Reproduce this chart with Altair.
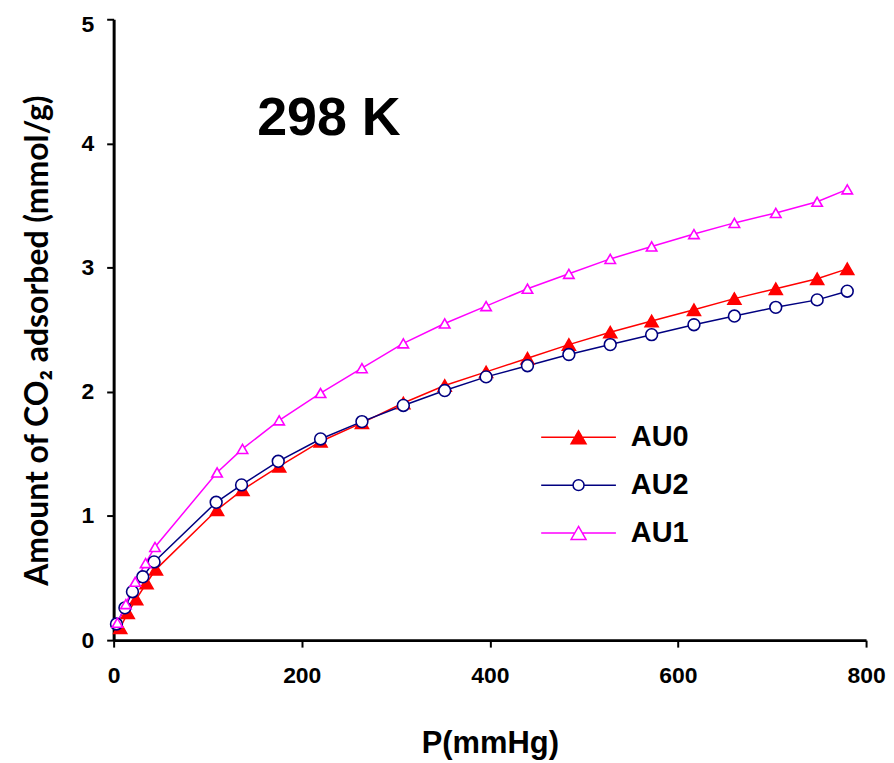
import altair as alt
import pandas as pd

series_names = ["AU0", "AU2", "AU1"]
line_colors = ["#FF0000", "#000080", "#FF00FF"]
fill_colors = ["#FF0000", "#FFFFFF", "#FFFFFF"]
marker_shapes = ["triangle-up", "circle", "triangle-up"]
marker_sizes = [170, 110, 170]

p_au0 = [7, 15, 24, 35, 45, 110, 137, 176, 220, 264, 308, 352, 396, 440, 484, 528, 572, 617, 660, 704, 748, 780]
q_au0 = [0.10, 0.22, 0.33, 0.46, 0.57, 1.05, 1.21, 1.40, 1.60, 1.75, 1.91, 2.05, 2.16, 2.27, 2.38, 2.48,
         2.57, 2.66, 2.75, 2.83, 2.91, 2.99]

p_au2 = [3, 12, 20, 31, 43, 109, 136, 175, 220, 264, 308, 352, 396, 440, 484, 528, 572, 617, 660, 704, 748, 780]
q_au2 = [0.13, 0.26, 0.39, 0.51, 0.63, 1.11, 1.25, 1.44, 1.62, 1.76, 1.89, 2.01, 2.12, 2.21, 2.30, 2.38,
         2.46, 2.54, 2.61, 2.68, 2.74, 2.81]

p_au1 = [4, 13, 23, 34, 44, 110, 137, 176, 220, 264, 308, 352, 396, 440, 484, 528, 572, 617, 660, 704, 748, 780]
q_au1 = [0.14, 0.29, 0.47, 0.62, 0.75, 1.35, 1.54, 1.77, 1.99, 2.19, 2.39, 2.55, 2.69, 2.83, 2.95, 3.07,
         3.17, 3.27, 3.36, 3.44, 3.53, 3.63]

x_ticks = [0, 200, 400, 600, 800]
y_ticks = [0, 1, 2, 3, 4, 5]

# legend symbols: line + marker (custom unit paths)
legend_paths = [
    "M-5,0H5M0,-0.87L1,0.87H-1Z",
    "M-5,0H-0.73M0.73,0H5M-0.73,0A0.73,0.73,0,1,0,0.73,0A0.73,0.73,0,1,0,-0.73,0Z",
    "M-5,0H-0.5M0.5,0H5M0,-0.87L1,0.87H-1Z",
]

rows = []
for name, ps, qs in zip(series_names, [p_au0, p_au2, p_au1], [q_au0, q_au2, q_au1]):
    for i, (p, q) in enumerate(zip(ps, qs)):
        rows.append({"series": name, "P": p, "q": q, "idx": i})
df = pd.DataFrame(rows)

FONT = "Liberation Sans"

x_enc = alt.X("P:Q", scale=alt.Scale(domain=[0, 800], nice=False),
              axis=alt.Axis(values=x_ticks, title="P(mmHg)", labelPadding=18, titlePadding=41,
                            titleFontSize=31, labelFlush=False))
y_enc = alt.Y("q:Q", scale=alt.Scale(domain=[0, 5], nice=False),
              axis=alt.Axis(values=y_ticks, title="Amount of CO\u2082 adsorbed (mmol/g)",
                            labelPadding=13, titlePadding=27, titleFont="Lato", titleFontSize=32,
                            titleY=322, labelFlush=False,
                            labelOffset={"condition": {"test": "datum.value === 5", "value": 5},
                                         "value": 0}))

color_nl = alt.Color("series:N", scale=alt.Scale(domain=series_names, range=line_colors), legend=None)

lines = alt.Chart(df).mark_line(strokeWidth=1.5).encode(
    x=x_enc, y=y_enc, color=color_nl, detail="series:N", order="idx:Q"
)

points = alt.Chart(df).mark_point(strokeWidth=1.6, opacity=1).encode(
    x=x_enc, y=y_enc,
    color=color_nl,
    fill=alt.Fill("series:N", scale=alt.Scale(domain=series_names, range=fill_colors), legend=None),
    shape=alt.Shape("series:N", scale=alt.Scale(domain=series_names, range=marker_shapes), legend=None),
    size=alt.Size("series:N", scale=alt.Scale(domain=series_names, range=marker_sizes), legend=None),
)

leg = alt.Legend(title=None, orient="none", legendX=452, legendY=405, padding=0,
                 labelFont=FONT, labelFontWeight="bold", labelFontSize=29, labelColor="black",
                 labelOffset=38, labelLimit=200, symbolSize=225, symbolStrokeWidth=1.5,
                 symbolOpacity=1, rowPadding=18)

legend_layer = alt.Chart(df).mark_point(strokeWidth=1.5, opacity=1, size=225).encode(
    x=x_enc, y=y_enc,
    color=alt.Color("series:N", scale=alt.Scale(domain=series_names, range=line_colors), legend=leg),
    fill=alt.Fill("series:N", scale=alt.Scale(domain=series_names, range=fill_colors), legend=leg),
    shape=alt.Shape("series:N", scale=alt.Scale(domain=series_names, range=legend_paths), legend=leg),
).transform_filter("false")

chart = alt.layer(lines, points, legend_layer).resolve_scale(
    color="independent", fill="independent", shape="independent", size="independent"
).properties(
    width=755, height=623,
    background="white",
    autosize=alt.AutoSizeParams(type="none"),
    padding={"left": 106, "top": 10, "right": 20, "bottom": 122},
    title=alt.TitleParams("298 K", anchor="start", orient="top", font=FONT, fontSize=54,
                          fontWeight="bold", color="black", dx=144, dy=133, baseline="top",
                          offset=0, frame="group"),
).configure_view(stroke=None).configure_axis(
    grid=False, domainColor="black", domainWidth=3, tickColor="black", tickWidth=2, tickSize=7,
    labelFont=FONT, labelFontWeight="bold", labelFontSize=23, labelColor="black",
    titleFont=FONT, titleFontWeight="bold", titleColor="black",
)

chart.save("out.html", embed_options={"renderer": "svg", "actions": False})
